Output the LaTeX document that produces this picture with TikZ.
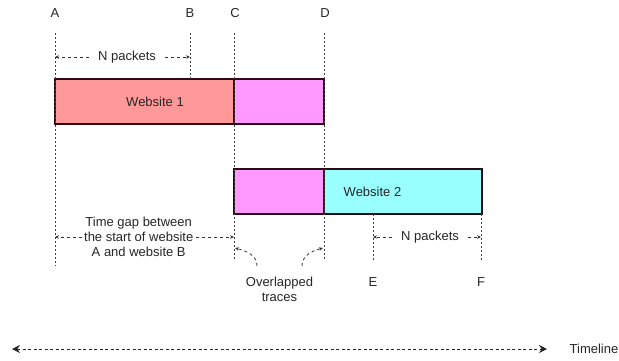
\documentclass[tikz,border=0pt]{standalone}
\usepackage{fontspec}
\setmainfont{Liberation Sans}
\usetikzlibrary{arrows.meta}

\definecolor{webone}{HTML}{FF9999}
\definecolor{overlap}{HTML}{FF99FF}
\definecolor{webtwo}{HTML}{99FFFF}
\definecolor{boxline}{HTML}{2E0A14}

\begin{document}
\begin{tikzpicture}[x=1pt,y=-1pt,
  every node/.style={font=\fontsize{13}{15}\selectfont,text=black!85},
  blk/.style={draw=boxline,line width=1.6pt,minimum height=45pt,inner sep=0pt},
  guide/.style={draw=black!75,line width=0.9pt,dash pattern=on 2pt off 2pt},
  span/.style={draw=black!80,line width=0.8pt,dash pattern=on 3pt off 3pt,-{Stealth[length=4pt,width=3.5pt]}},
  timeline/.style={draw=black!85,line width=0.9pt,dash pattern=on 3pt off 2.5pt,
    {Stealth[length=8pt,width=8pt]}-{Stealth[length=8pt,width=8pt]}}]
\useasboundingbox (0,0) rectangle (619,360);

% boxes
\node[blk,fill=webone,minimum width=179pt] (w1) at (144.5,101.5) {};
\node[blk,fill=overlap,minimum width=90pt] (o1) at (279,101.5) {};
\node[blk,fill=overlap,minimum width=90pt] (o2) at (279,191.5) {};
\node[blk,fill=webtwo,minimum width=158pt] (w2) at (403,191.5) {};
\node (w1lbl) at (155,101.5) {Website 1};
\node (w2lbl) at (372.5,192) {Website 2};

% time marks
\node (A) at (55,13) {A};
\node (B) at (190,13) {B};
\node (C) at (235,13) {C};
\node (D) at (325,13) {D};
\node (E) at (373,282) {E};
\node (F) at (481,282) {F};

\coordinate (a0) at (55,33);  \coordinate (a1) at (55,266);
\coordinate (b0) at (190,33); \coordinate (b1) at (190,79);
\coordinate (c0) at (234,33); \coordinate (c1) at (234,260);
\coordinate (d0) at (324,33); \coordinate (d1) at (324,260);
\coordinate (e0) at (373,214); \coordinate (e1) at (373,260);
\coordinate (f0) at (481,214); \coordinate (f1) at (481,260);
\foreach \p in {a,b,c,d,e,f}
  \draw[guide] (\p0) -- (\p1);

% spans
\node (np1) at (127,57) {N packets};
\draw[span] ([xshift=-6pt]np1.west) -- (55,57);
\draw[span] ([xshift=6pt]np1.east) -- (190,57);

\node[align=center,inner sep=1pt] (gap) at (138.7,237) {Time gap between\\the start of website\\A and website B};
\draw[span] ([xshift=-1pt]gap.west) -- (55,237);
\draw[span] ([xshift=2pt]gap.east) -- (234,237);

\node (np2) at (430,237) {N packets};
\draw[span] ([xshift=-6pt]np2.west) -- (373,237);
\draw[span] ([xshift=6pt]np2.east) -- (481,237);

\node[align=center,inner sep=1pt] (ov) at (279.5,289.5) {Overlapped\\traces};
\coordinate (ovl) at (257,266); \coordinate (ovr) at (302,266);
\draw[span] (ovl) to[out=90,in=-15] (235,248);
\draw[span] (ovr) to[out=90,in=195] (323,248);

% timeline
\node (tl) at (594,349) {Timeline};
\coordinate (t0) at (12,349); \coordinate (t1) at (547,349);
\draw[timeline] (t0) -- (t1);
\end{tikzpicture}
\end{document}
